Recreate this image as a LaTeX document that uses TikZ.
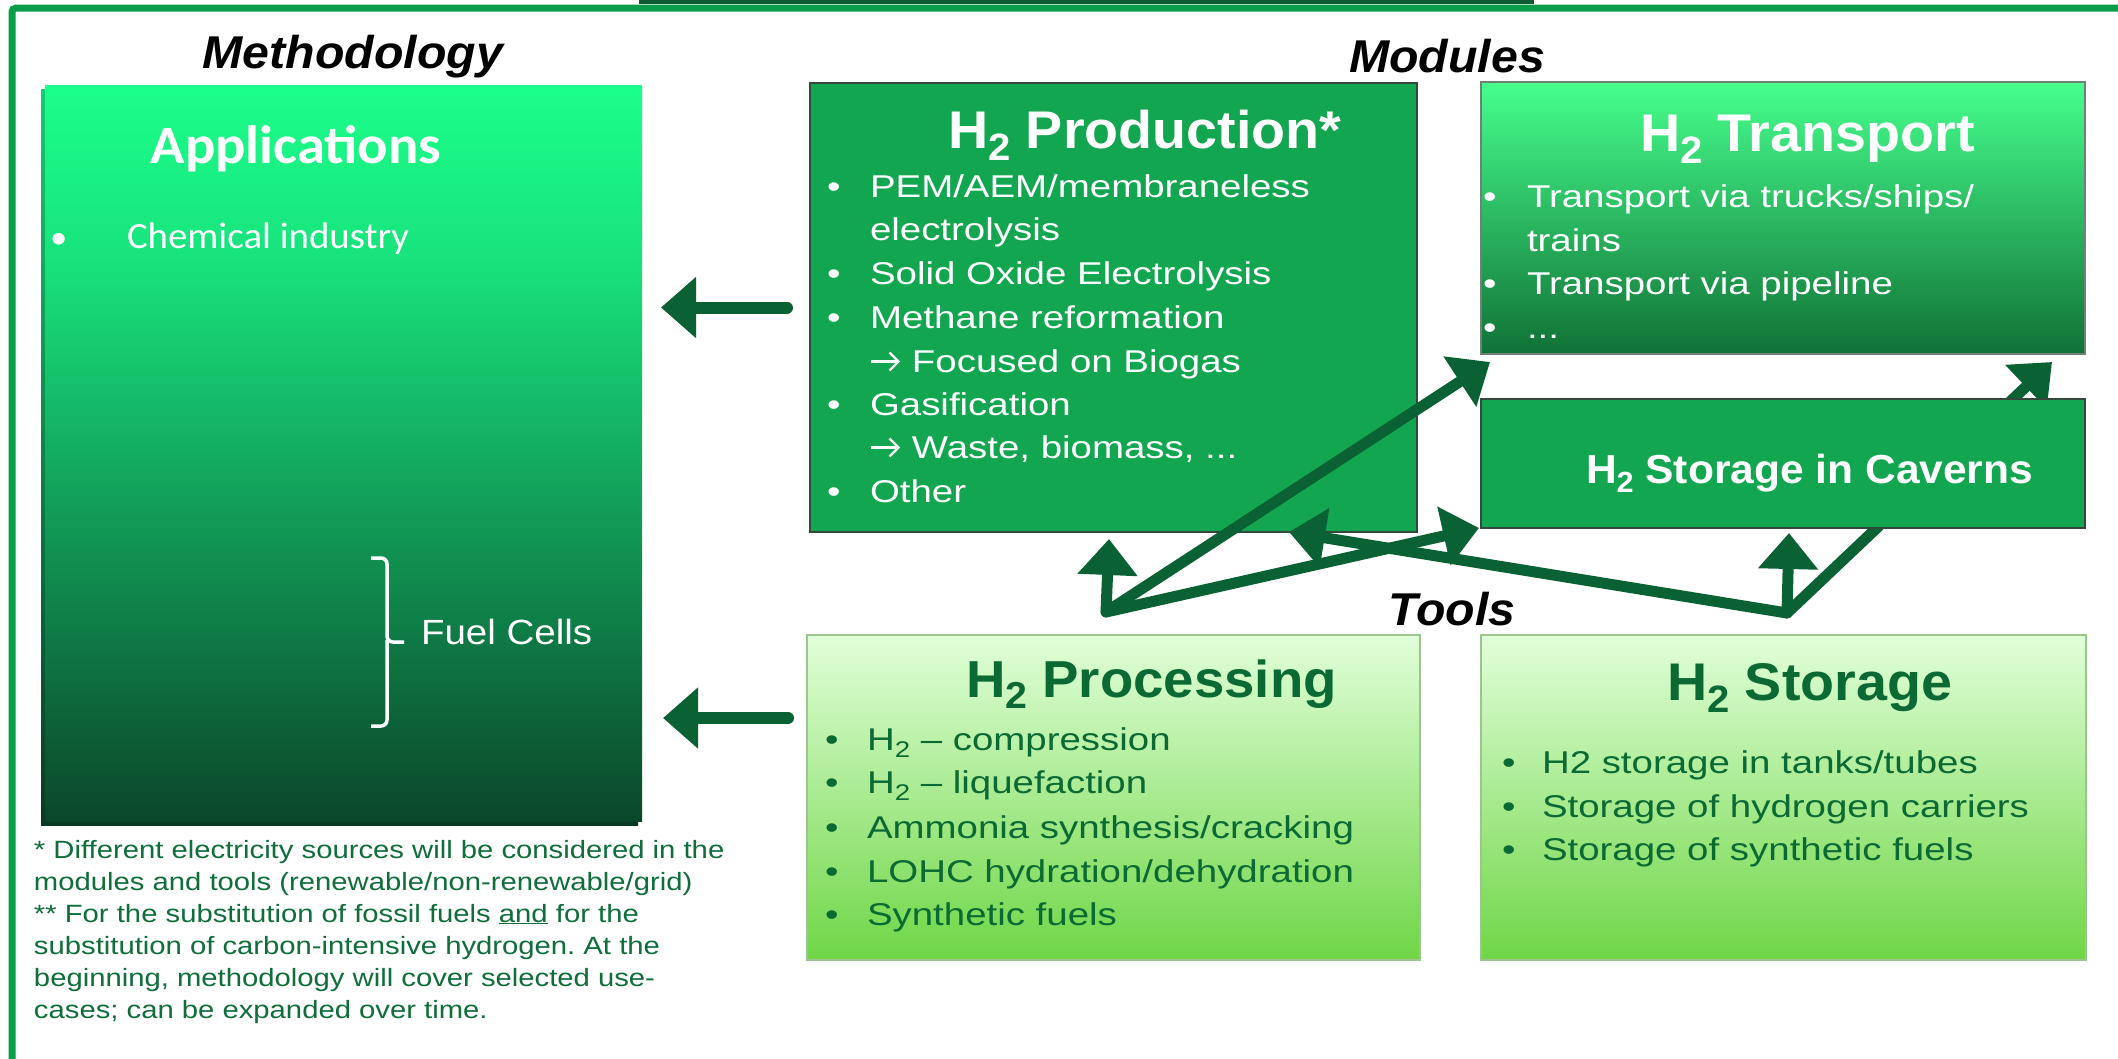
\documentclass[tikz,border=0pt]{standalone}
\usepackage{fontspec}
\usepackage{graphicx}
\usetikzlibrary{arrows.meta}
\setmainfont{Liberation Sans}
\newfontfamily\bodyf[FakeStretch=1.22]{Liberation Sans}
\newfontfamily\footf[FakeStretch=1.17]{Liberation Sans}
\newfontfamily\titf[FakeStretch=1.05]{Liberation Sans}
\newfontfamily\calf[FakeStretch=1.05]{Carlito}
\newfontfamily\fuelf[FakeStretch=1.1]{Liberation Sans}
\newcommand\hsub[1]{\raisebox{-0.23em}{\scalebox{0.72}{#1}}}
\newcommand\rarr{\tikz[baseline=0pt, x=1pt, y=1pt]{\draw[draw=white, line width=2.3pt, -{Straight Barb[length=9pt, width=18pt, line width=2.3pt]}] (1,10.5) -- (30,10.5);}}
\frenchspacing
\definecolor{frameG}{HTML}{0A9D47}
\definecolor{barG}{HTML}{0B5A30}
\definecolor{arrowG}{HTML}{0A6234}
\definecolor{prodG}{HTML}{12A650}
\definecolor{boxLine}{HTML}{34483C}
\definecolor{appA}{HTML}{1BFF8B}
\definecolor{appB}{HTML}{18E27C}
\definecolor{appC}{HTML}{0A472A}
\definecolor{tranA}{HTML}{46FF8D}
\definecolor{tranB}{HTML}{21B95C}
\definecolor{tranC}{HTML}{107236}
\definecolor{toolA}{HTML}{E1FFD9}
\definecolor{toolB}{HTML}{C3F3AD}
\definecolor{toolC}{HTML}{6FD646}
\definecolor{toolLine}{HTML}{9CC58E}
\definecolor{textG}{HTML}{0B6A33}
\definecolor{footG}{HTML}{0F6E3A}
\tikzset{
  every node/.style={inner sep=0pt, outer sep=0pt},
  box/.style={anchor=north west, minimum width=#1},
  ttl/.style={font=\titf\bfseries\fontsize{53}{60}\selectfont, anchor=base west},
  bod/.style={font=\bodyf\fontsize{31.5}{40}\selectfont, anchor=base west},
  fnote/.style={font=\footf\fontsize{25}{32}\selectfont, anchor=base west, text=footG},
  hd/.style={font=\titf\bfseries\itshape\fontsize{46}{50}\selectfont, anchor=base},
  conn/.style={draw=arrowG, line width=11pt, line cap=round, -{Triangle[length=36pt,width=58pt]}},
  sideconn/.style={draw=arrowG, line width=12pt, line cap=round, -{Triangle[length=35pt,width=59pt]}},
  bracepath/.style={draw=white, line width=3.5pt, rounded corners=6pt},
}
\begin{document}
\begin{tikzpicture}[x=1pt, y=-1pt]
\useasboundingbox (0,0) rectangle (2118,1058);
\clip (0,0) rectangle (2118,1058);
\fill[white] (0,0) rectangle (2118,1058);
% frame and top bar
\draw[frameG, line width=7pt, rounded corners=4pt] (12,8) rectangle (2200,1120);
\fill[barG] (639,-10) rectangle (1534,4);

% Applications box
\fill[top color=appA!80!black, bottom color=appC!80!black] (41,89) rectangle (638,825);
\fill[top color=appA, bottom color=appB] (45,85) rectangle (642,261);
\fill[top color=appB, bottom color=appC] (45,260) rectangle (642,821);
\node[box=597pt, minimum height=736pt] (app) at (45,85) {};
\node[font=\calf\bfseries\fontsize{54}{60}\selectfont, anchor=base, text=white] (appT) at (296,163) {Applications};
\node[font=\calf\fontsize{33}{44}\selectfont, anchor=base west, text=white] (appB1) at (50,248) {•};
\node[font=\calf\fontsize{37}{44}\selectfont, anchor=base west, text=white] (app1) at (127,248) {Chemical industry};
\draw[bracepath] (371,558) -- (387,558) -- (387,642) -- (404,642);
\draw[bracepath] (371,726) -- (387,726) -- (387,640);
\node[font=\fuelf\fontsize{35}{40}\selectfont, anchor=base west, text=white] (fuel) at (421,644) {Fuel Cells};

% module / tool boxes
\node[box=607pt, minimum height=449pt, fill=prodG, draw=boxLine, line width=2.5pt] (prod) at (810,83) {};
\node[box=604pt, minimum height=272pt, top color=tranA, middle color=tranB, bottom color=tranC, draw=boxLine!70, line width=1.5pt] (tran) at (1481,82) {};
\node[box=613pt, minimum height=325pt, top color=toolA, middle color=toolB, bottom color=toolC, draw=toolLine, line width=1.5pt] (proc) at (807,635) {};
\node[box=605pt, minimum height=325pt, top color=toolA, middle color=toolB, bottom color=toolC, draw=toolLine, line width=1.5pt] (stor) at (1481,635) {};

% arrow endpoints
\coordinate (A) at (1106,612);
\coordinate (B) at (1787,613);
\coordinate (tP1) at (1109,539);
\coordinate (tT1) at (1490,362);
\coordinate (tC1) at (1479,528);
\coordinate (tP2) at (1289,532);
\coordinate (tC2) at (1789,533);
\coordinate (tT2) at (2052,362);

% arrow hidden behind caverns box
\draw[conn] (B) -- (tT2);

\node[box=604pt, minimum height=129pt, fill=prodG, draw=boxLine, line width=2.5pt] (cav) at (1481,399) {};

% other arrows
\draw[conn] (A) -- (tP1);
\draw[conn] (A) -- (tT1);
\draw[conn] (A) -- (tC1);
\draw[conn] (B) -- (tP2);
\draw[conn] (B) -- (tC2);
\draw[sideconn] ([xshift=-23pt]prod.west) -- ([xshift=19pt]app.east |- prod.west);
\draw[sideconn] ([shift={(-19pt,-83pt)}]proc.north west) -- ([shift={(21pt,-83pt)}]app.east |- proc.north west);

% headings
\node[hd] (meth) at (353,68) {Methodology};
\node[hd] (modl) at (1447,72) {Modules};
\node[hd] (tool) at (1452,625) {Tools};

% H2 Production
\node[ttl, text=white] (prodT) at (948,148) {H\hsub{2} Production*};
\begin{scope}[every node/.append style={bod, text=white}]
\node (pb1) at (827,197) {•};
\node (p1) at (870,197) {PEM/AEM/membraneless};
\node (p1b) at (870,240) {electrolysis};
\node (pb2) at (827,284) {•};
\node (p2) at (870,284) {Solid Oxide Electrolysis};
\node (pb3) at (827,328) {•};
\node (p3) at (870,328) {Methane reformation};
\node (p3b) at (870,372) {\rarr{} Focused on Biogas};
\node (pb4) at (827,415) {•};
\node (p4) at (870,415) {Gasification};
\node (p4b) at (870,458) {\rarr{} Waste, biomass, ...};
\node (pb5) at (827,502) {•};
\node (p5) at (870,502) {Other};
\end{scope}

% H2 Transport
\node[ttl, text=white] (tranT) at (1640,151) {H\hsub{2} Transport};
\begin{scope}[every node/.append style={bod, text=white}]
\node (tb1) at (1483,207) {•};
\node (t1) at (1527,207) {Transport via trucks/ships/};
\node (t1b) at (1527,251) {trains};
\node (tb2) at (1483,294) {•};
\node (t2) at (1527,294) {Transport via pipeline};
\node (tb3) at (1483,338) {•};
\node (t3) at (1527,338) {...};
\end{scope}

% H2 Storage in Caverns
\node[ttl, text=white, font=\titf\bfseries\fontsize{40.5}{46}\selectfont] (cavT) at (1586,483) {H\hsub{2} Storage in Caverns};

% H2 Processing
\node[ttl, text=textG, font=\titf\bfseries\fontsize{52}{60}\selectfont] (procT) at (966,697) {H\hsub{2} Processing};
\begin{scope}[every node/.append style={bod, text=textG}]
\node (rb1) at (825,750) {•};
\node (r1) at (867,750) {H\hsub{2} – compression};
\node (rb2) at (825,793) {•};
\node (r2) at (867,793) {H\hsub{2} – liquefaction};
\node (rb3) at (825,838) {•};
\node (r3) at (867,838) {Ammonia synthesis/cracking};
\node (rb4) at (825,882) {•};
\node (r4) at (867,882) {LOHC hydration/dehydration};
\node (rb5) at (825,925) {•};
\node (r5) at (867,925) {Synthetic fuels};
\end{scope}

% H2 Storage
\node[ttl, text=textG] (storT) at (1667,700) {H\hsub{2} Storage};
\begin{scope}[every node/.append style={bod, text=textG}]
\node (sb1) at (1502,773) {•};
\node (s1) at (1542,773) {H2 storage in tanks/tubes};
\node (sb2) at (1502,817) {•};
\node (s2) at (1542,817) {Storage of hydrogen carriers};
\node (sb3) at (1502,860) {•};
\node (s3) at (1542,860) {Storage of synthetic fuels};
\end{scope}

% footnotes
\node[fnote] (fn1) at (34,858) {* Different electricity sources will be considered in the};
\node[fnote] (fn2) at (34,890) {modules and tools (renewable/non-renewable/grid)};
\node[fnote] (fn3) at (34,922) {** For the substitution of fossil fuels \underline{and} for the};
\node[fnote] (fn4) at (34,954) {substitution of carbon-intensive hydrogen. At the};
\node[fnote] (fn5) at (34,986) {beginning, methodology will cover selected use-};
\node[fnote] (fn6) at (34,1018) {cases; can be expanded over time.};
\end{tikzpicture}
\end{document}
